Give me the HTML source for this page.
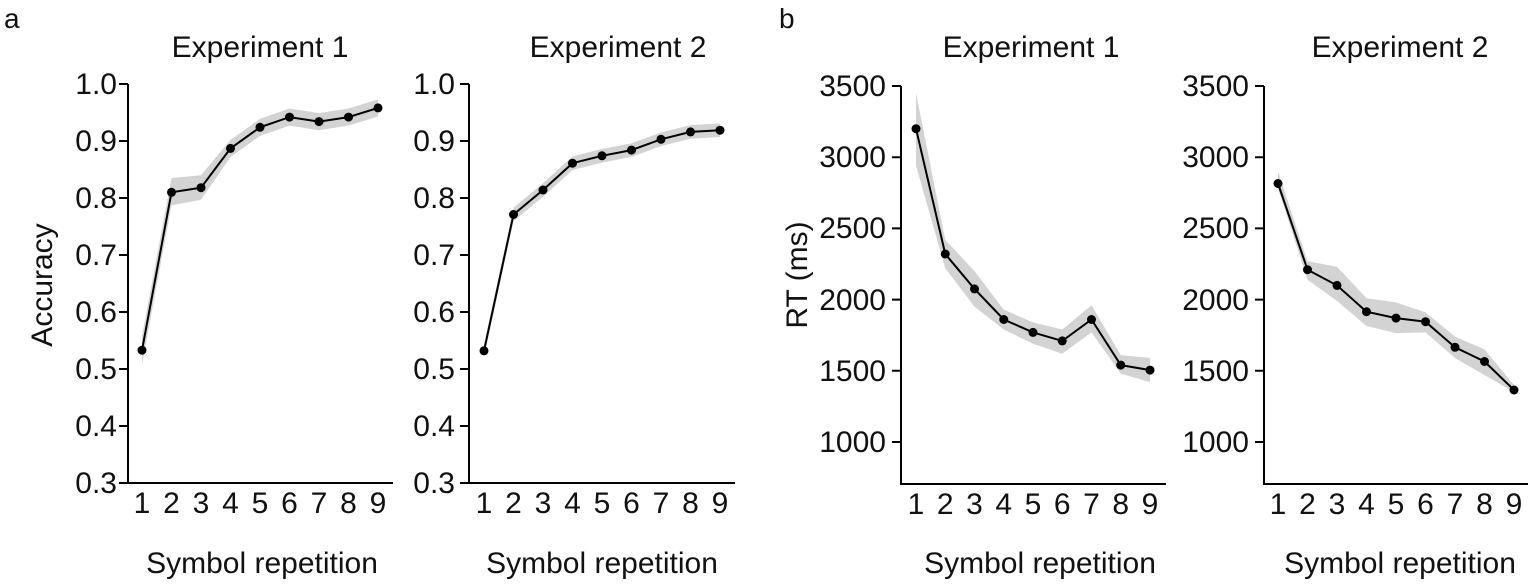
<!DOCTYPE html>
<html><head><meta charset="utf-8"><style>
html,body{margin:0;padding:0;background:#fff}
svg{display:block}
text{font-family:"Liberation Sans",Arial,sans-serif;fill:#111}
</style></head><body>
<svg width="1535" height="584" viewBox="0 0 1535 584" xmlns="http://www.w3.org/2000/svg">
<g font-size="28"><text x="4" y="28">a</text><text x="779" y="28">b</text></g>
<g font-size="30" text-anchor="middle">
<text x="260" y="57">Experiment 1</text>
<text x="618" y="57">Experiment 2</text>
<text x="1031" y="57">Experiment 1</text>
<text x="1400" y="57">Experiment 2</text>
<text x="262" y="573">Symbol repetition</text>
<text x="602" y="573">Symbol repetition</text>
<text x="1040" y="573">Symbol repetition</text>
<text x="1400" y="573">Symbol repetition</text>
<text transform="translate(52,285) rotate(-90)">Accuracy</text>
<text transform="translate(807,275) rotate(-90)">RT (ms)</text>
</g>

<g fill="#d3d3d3" stroke="none">
<polygon points="142,336 171.5,178 201,175.2 230.5,139.9 260,118.8 289.5,108.5 319,113.1 348.5,108.5 378,99.4 378,116.5 348.5,125.6 319,130.2 289.5,125.6 260,135.9 230.5,157 201,199.7 171.5,205.4 142,364.4"/>
<polygon points="484,344 513.5,207.7 543,183.2 572.5,156.4 602,149 631.5,143.3 661,132.5 690.5,125.1 720,123.4 720,137 690.5,138.7 661,146.1 631.5,156.9 602,162.6 572.5,170 543,196.8 513.5,221.3 484,357.6"/>
<polygon points="916,93.1 945.25,239.8 974.5,271.1 1003.75,309.6 1033,322.4 1062.25,329.5 1091.5,305.3 1120.75,355.1 1150,357.9 1150,382.1 1120.75,373.6 1091.5,332.4 1062.25,353.7 1033,343.7 1003.75,329.5 974.5,306.7 945.25,268.3 916,165.7"/>
<polygon points="1278,171.4 1307.5,261.2 1337,266.8 1366.5,298.2 1396,302.4 1425.5,312.4 1455,336.6 1484.5,349.4 1514,385 1514,392.1 1484.5,375.1 1455,358 1425.5,332.4 1396,333.1 1366.5,326 1337,301 1307.5,279.7 1278,188.5"/>
</g>

<g fill="none" stroke="#000" stroke-width="2">
<polyline points="142,350.2 171.5,192.3 201,187.7 230.5,148.4 260,127.3 289.5,117.1 319,121.6 348.5,117.1 378,107.9"/>
<polyline points="484,350.8 513.5,214.5 543,190 572.5,163.2 602,155.8 631.5,150.1 661,139.3 690.5,131.9 720,130.2"/>
<polyline points="916,128.7 945.25,254 974.5,288.9 1003.75,319.5 1033,332.4 1062.25,340.9 1091.5,319.5 1120.75,365.1 1150,370.1"/>
<polyline points="1278,183.5 1307.5,269.7 1337,285.4 1366.5,311.7 1396,318.1 1425.5,321.7 1455,347.3 1484.5,361.5 1514,390"/>
</g>
<g fill="#000">
<circle cx="142" cy="350.2" r="4.5"/><circle cx="171.5" cy="192.3" r="4.5"/><circle cx="201" cy="187.7" r="4.5"/><circle cx="230.5" cy="148.4" r="4.5"/><circle cx="260" cy="127.3" r="4.5"/><circle cx="289.5" cy="117.1" r="4.5"/><circle cx="319" cy="121.6" r="4.5"/><circle cx="348.5" cy="117.1" r="4.5"/><circle cx="378" cy="107.9" r="4.5"/>
<circle cx="484" cy="350.8" r="4.5"/><circle cx="513.5" cy="214.5" r="4.5"/><circle cx="543" cy="190" r="4.5"/><circle cx="572.5" cy="163.2" r="4.5"/><circle cx="602" cy="155.8" r="4.5"/><circle cx="631.5" cy="150.1" r="4.5"/><circle cx="661" cy="139.3" r="4.5"/><circle cx="690.5" cy="131.9" r="4.5"/><circle cx="720" cy="130.2" r="4.5"/>
<circle cx="916" cy="128.7" r="4.5"/><circle cx="945.25" cy="254" r="4.5"/><circle cx="974.5" cy="288.9" r="4.5"/><circle cx="1003.75" cy="319.5" r="4.5"/><circle cx="1033" cy="332.4" r="4.5"/><circle cx="1062.25" cy="340.9" r="4.5"/><circle cx="1091.5" cy="319.5" r="4.5"/><circle cx="1120.75" cy="365.1" r="4.5"/><circle cx="1150" cy="370.1" r="4.5"/>
<circle cx="1278" cy="183.5" r="4.5"/><circle cx="1307.5" cy="269.7" r="4.5"/><circle cx="1337" cy="285.4" r="4.5"/><circle cx="1366.5" cy="311.7" r="4.5"/><circle cx="1396" cy="318.1" r="4.5"/><circle cx="1425.5" cy="321.7" r="4.5"/><circle cx="1455" cy="347.3" r="4.5"/><circle cx="1484.5" cy="361.5" r="4.5"/><circle cx="1514" cy="390" r="4.5"/>
</g>

<g stroke="#000" stroke-width="2" fill="none">
<path d="M128,84 V483 H393"/>
<path d="M119,84H128M119,141H128M119,198H128M119,255H128M119,312H128M119,369H128M119,426H128M119,483H128"/>
<path d="M469,84 V483 H735"/>
<path d="M460,84H469M460,141H469M460,198H469M460,255H469M460,312H469M460,369H469M460,426H469M460,483H469"/>
<path d="M901,86 V484 H1166"/>
<path d="M892,86H901M892,157.2H901M892,228.4H901M892,299.6H901M892,370.8H901M892,442H901"/>
<path d="M1264,86 V484 H1528"/>
<path d="M1255,86H1264M1255,157.2H1264M1255,228.4H1264M1255,299.6H1264M1255,370.8H1264M1255,442H1264"/>
</g>

<g font-size="30" text-anchor="end">
<text x="117" y="94">1.0</text><text x="117" y="151">0.9</text><text x="117" y="208">0.8</text><text x="117" y="265">0.7</text><text x="117" y="322">0.6</text><text x="117" y="379">0.5</text><text x="117" y="436">0.4</text><text x="117" y="493">0.3</text>
<text x="455" y="94">1.0</text><text x="455" y="151">0.9</text><text x="455" y="208">0.8</text><text x="455" y="265">0.7</text><text x="455" y="322">0.6</text><text x="455" y="379">0.5</text><text x="455" y="436">0.4</text><text x="455" y="493">0.3</text>
<text x="886" y="96">3500</text><text x="886" y="167">3000</text><text x="886" y="238">2500</text><text x="886" y="310">2000</text><text x="886" y="381">1500</text><text x="886" y="452">1000</text>
<text x="1249" y="96">3500</text><text x="1249" y="167">3000</text><text x="1249" y="238">2500</text><text x="1249" y="310">2000</text><text x="1249" y="381">1500</text><text x="1249" y="452">1000</text>
</g>
<g font-size="30" text-anchor="middle">
<text x="142" y="513">1</text><text x="171.5" y="513">2</text><text x="201" y="513">3</text><text x="230.5" y="513">4</text><text x="260" y="513">5</text><text x="289.5" y="513">6</text><text x="319" y="513">7</text><text x="348.5" y="513">8</text><text x="378" y="513">9</text>
<text x="484" y="513">1</text><text x="513.5" y="513">2</text><text x="543" y="513">3</text><text x="572.5" y="513">4</text><text x="602" y="513">5</text><text x="631.5" y="513">6</text><text x="661" y="513">7</text><text x="690.5" y="513">8</text><text x="720" y="513">9</text>
<text x="916" y="514">1</text><text x="945.25" y="514">2</text><text x="974.5" y="514">3</text><text x="1003.75" y="514">4</text><text x="1033" y="514">5</text><text x="1062.25" y="514">6</text><text x="1091.5" y="514">7</text><text x="1120.75" y="514">8</text><text x="1150" y="514">9</text>
<text x="1278" y="514">1</text><text x="1307.5" y="514">2</text><text x="1337" y="514">3</text><text x="1366.5" y="514">4</text><text x="1396" y="514">5</text><text x="1425.5" y="514">6</text><text x="1455" y="514">7</text><text x="1484.5" y="514">8</text><text x="1514" y="514">9</text>
</g>
</svg>
</body></html>
